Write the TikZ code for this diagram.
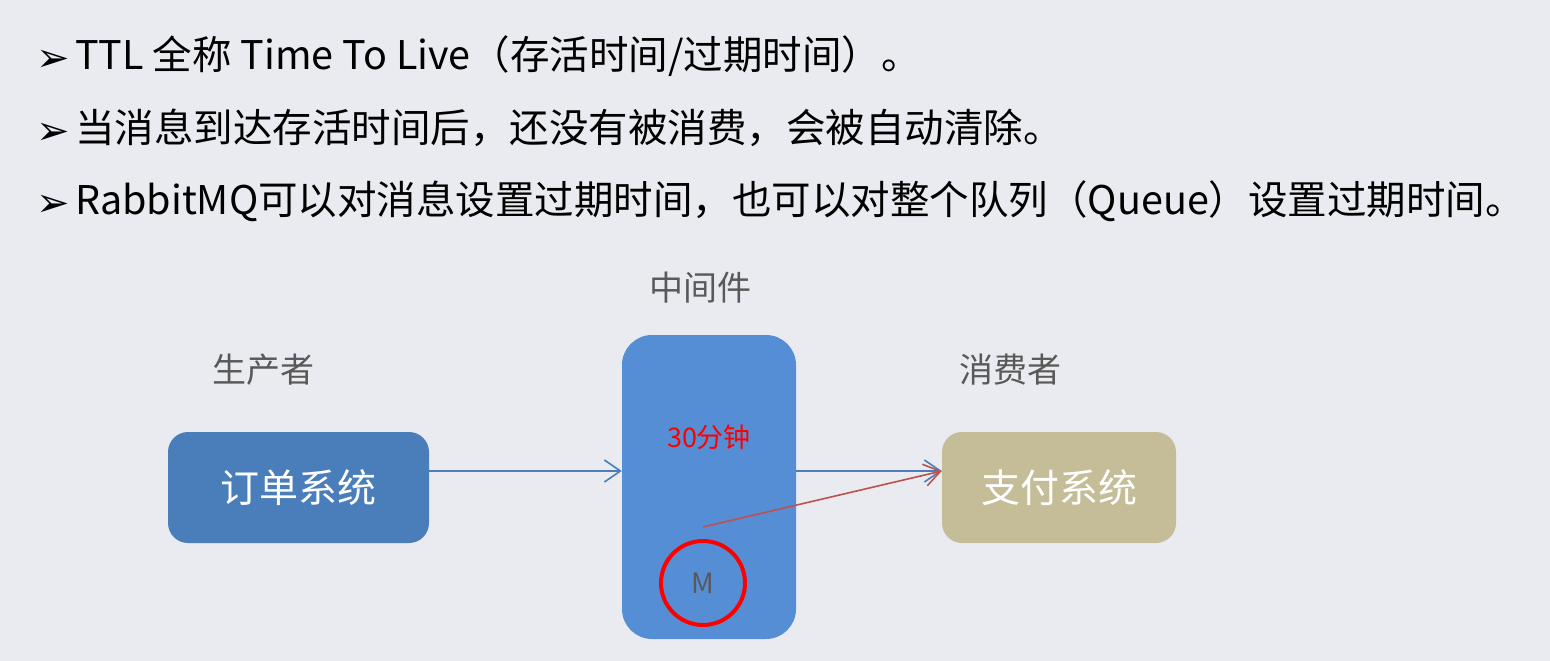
\documentclass[tikz,border=0pt]{standalone}
\usepackage{fontspec}
\setmainfont{Noto Sans CJK SC}
\newfontfamily\dejavu{DejaVu Sans}
\usetikzlibrary{arrows.meta}
\definecolor{bg}{RGB}{234,235,240}
\definecolor{boxblue}{RGB}{74,126,187}
\definecolor{midblue}{RGB}{85,142,213}
\definecolor{paybox}{RGB}{196,189,151}
\definecolor{lblgray}{RGB}{89,89,89}
\definecolor{redline}{RGB}{192,80,77}
\tikzset{
  bullettext/.style={anchor=base west, inner sep=0pt, font=\fontsize{39.5}{42}\selectfont, text=black},
  bulletmark/.style={anchor=base west, inner sep=0pt, font=\dejavu\fontsize{40}{42}\selectfont, text=black},
  sysbox/.style={rounded corners=20pt, inner sep=0pt, text=white, font=\fontsize{39}{42}\selectfont, minimum height=111pt},
  rolelabel/.style={inner sep=0pt, text=lblgray, font=\fontsize{34}{36}\selectfont},
  flow/.style={line width=1.6pt, -{Straight Barb[length=16pt,width=22pt]}},
}
\begin{document}
\begin{tikzpicture}[x=1pt,y=-1pt]
\useasboundingbox[fill=bg] (0,0) rectangle (1550,661);
% bullets
\node[bulletmark] (b1) at (36,72) {➢};
\node[bulletmark] (b2) at (36,144) {➢};
\node[bulletmark] (b3) at (36,216) {➢};
\node[bullettext] (t1) at (75,70) {TTL 全称 Time To Live（存活时间/过期时间）。};
\node[bullettext] (t2) at (75,142) {当消息到达存活时间后，还没有被消费，会被自动清除。};
\node[bullettext] (t3) at (75,214) {RabbitMQ可以对消息设置过期时间，也可以对整个队列（Queue）设置过期时间。};
% labels
\node[rolelabel] (lp) at (263,370) {生产者};
\node[rolelabel] (lm) at (700,288) {中间件};
\node[rolelabel] (lc) at (1010,370) {消费者};
% boxes
\node[sysbox, fill=boxblue, minimum width=261pt] (order) at (298.5,487.5) {订单系统};
\node[rounded corners=30pt, fill=midblue, minimum width=174pt, minimum height=304pt, inner sep=0pt] (mid) at (709,487) {};
\node[sysbox, fill=paybox, minimum width=234pt] (pay) at (1059,487.5) {支付系统};
\node[inner sep=0pt, text=red, font=\fontsize{27}{30}\selectfont] (ttl) at (709,437) {30分钟};
\node[circle, draw=red, line width=4pt, minimum size=84pt, inner sep=0pt, text=lblgray, font=\fontsize{28}{30}\selectfont] (m) at (703,583) {M};
\coordinate (mstart) at (703,527);
% connectors
\draw[flow, boxblue] ([yshift=16.5pt]order.east) -- ([yshift=16pt]mid.west);
\draw[flow, boxblue] ([yshift=16pt]mid.east) -- ([yshift=16.5pt]pay.west);
\draw[flow, redline] (mstart) -- ([yshift=16.5pt]pay.west);
\end{tikzpicture}
\end{document}
